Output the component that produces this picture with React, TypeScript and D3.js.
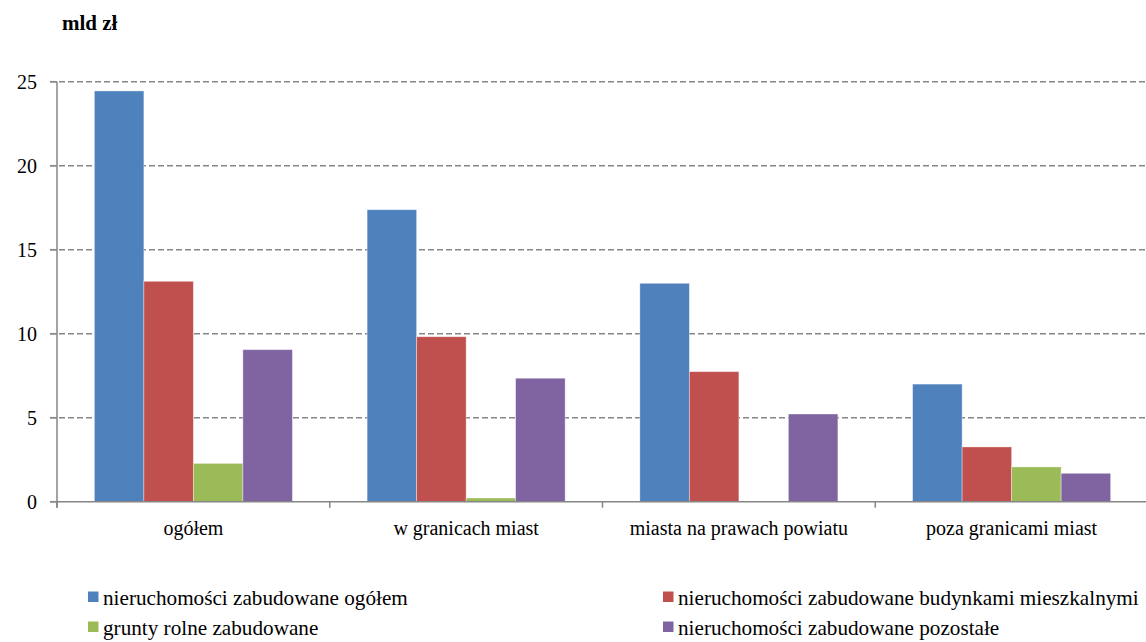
import React from "react";
import * as d3 from "d3";

const categories = ["ogółem", "w granicach miast", "miasta na prawach powiatu", "poza granicami miast"];
const seriesNames = [
  "nieruchomości zabudowane ogółem",
  "nieruchomości zabudowane budynkami mieszkalnymi",
  "grunty rolne zabudowane",
  "nieruchomości zabudowane pozostałe",
];
const seriesColors = ["#4F81BD", "#C0504D", "#9BBB59", "#8064A2"];
const builtTotal = [24.45, 17.38, 13.0, 7.0];
const residential = [13.12, 9.82, 7.74, 3.26];
const agricultural = [2.28, 0.22, 0, 2.07];
const other = [9.05, 7.35, 5.22, 1.69];
const yTicks = [0, 5, 10, 15, 20, 25];

const W = 1146;
const H = 642;
const FONT = "Liberation Serif";

export default function App() {
  const seriesValues = [builtTotal, residential, agricultural, other];
  const left = 57;
  const right = 1148;
  const top = 81.7;
  const bottom = 501.7;

  const x0 = d3.scaleBand<string>().domain(categories).range([left, right]).paddingInner(0).paddingOuter(0);
  const bw = x0.bandwidth();
  const x1 = d3
    .scaleBand<number>()
    .domain([0, 1, 2, 3])
    .range([bw * 0.137, bw * 0.863])
    .padding(0);
  const y = d3.scaleLinear().domain([0, 25]).range([bottom, top]);
  const txt = { fontFamily: FONT };

  return (
    <svg width={W} height={H} style={{ position: "absolute", left: 0, top: 0, background: "#fff" }}>
      <rect x={0} y={0} width={W} height={H} fill="#fff" />
      <text x={62} y={30} style={{ ...txt, fontWeight: "bold", fontSize: 21 }} fill="#000">
        mld zł
      </text>
      {yTicks.filter((t) => t > 0).map((t) => (
        <line
          key={"g" + t}
          x1={50}
          x2={W}
          y1={y(t)}
          y2={y(t)}
          stroke="#868686"
          strokeWidth={1.5}
          strokeDasharray="6,3"
        />
      ))}
      {categories.map((c, ci) => (
        <g key={c} transform={`translate(${x0(c)},0)`}>
          {seriesValues.map((vals, si) =>
            vals[ci] > 0 ? (
              <rect
                key={si}
                x={x1(si)}
                y={y(vals[ci])}
                width={x1.bandwidth()}
                height={y(0) - y(vals[ci])}
                fill={seriesColors[si]}
                stroke="#ffffff"
                strokeOpacity={0.45}
                strokeWidth={0.8}
              />
            ) : null
          )}
        </g>
      ))}
      <line x1={left} x2={left} y1={top} y2={bottom + 6} stroke="#868686" strokeWidth={1.5} />
      {yTicks.map((t) => (
        <g key={"t" + t}>
          <line x1={50} x2={left} y1={y(t)} y2={y(t)} stroke="#868686" strokeWidth={1.5} />
          <text x={37} y={y(t)} dy="0.34em" textAnchor="end" style={{ ...txt, fontSize: 20 }} fill="#000">
            {t}
          </text>
        </g>
      ))}
      <line x1={50} x2={W} y1={bottom} y2={bottom} stroke="#868686" strokeWidth={1.5} />
      {categories.map((c) => (
        <g key={"x" + c}>
          <line x1={x0(c)!} x2={x0(c)!} y1={bottom} y2={bottom + 6} stroke="#868686" strokeWidth={1.5} />
          <text
            x={x0(c)! + bw / 2}
            y={535}
            textAnchor="middle"
            style={{ ...txt, fontSize: 20 }}
            fill="#000"
          >
            {c}
          </text>
        </g>
      ))}
      {seriesNames.map((n, i) => {
        const col = i % 2;
        const row = Math.floor(i / 2);
        const lx = col === 0 ? 88 : 663;
        const ly = row === 0 ? 605 : 635;
        return (
          <g key={n}>
            <rect x={lx} y={ly - 13.5} width={10.5} height={10.5} fill={seriesColors[i]} />
            <text x={lx + 15} y={ly} style={{ ...txt, fontSize: 21.2 }} fill="#000">
              {n}
            </text>
          </g>
        );
      })}
    </svg>
  );
}
